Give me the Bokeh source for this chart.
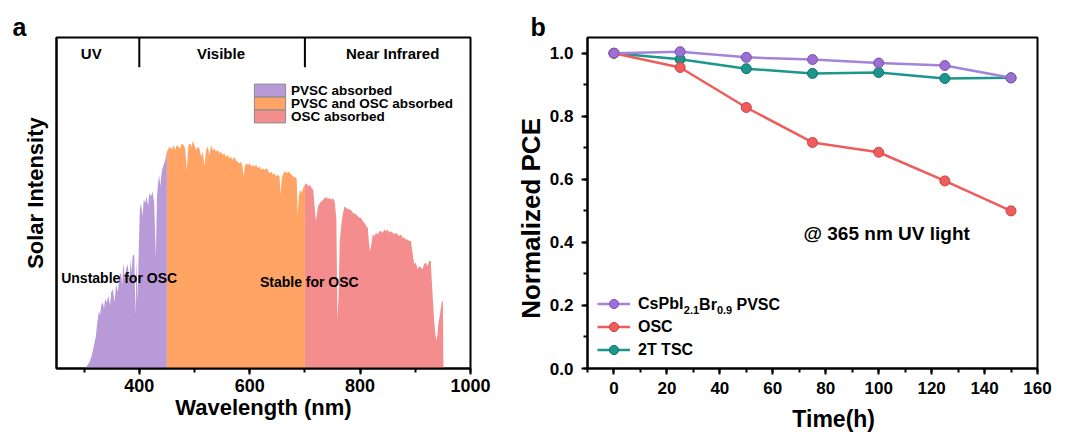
import numpy as np
from bokeh.plotting import figure
from bokeh.models import (Range1d, FixedTicker, SingleIntervalTicker, Legend, LegendItem,
                          Label, PrintfTickFormatter)
from bokeh.layouts import row
from bokeh.core.properties import value
from bokeh.embed import file_html
from bokeh.resources import INLINE
import math

FONT = "Liberation Sans"

# ---------------- data: panel a (solar spectrum, normalised to axis height) -------------
wavelength = [300, 303, 306, 310, 314, 318, 321, 324, 327, 329, 331, 334, 336, 338, 341, 344,
              347, 349, 352, 355, 358, 361, 364, 367, 369, 371, 374, 376, 379, 382, 384, 386,
              388, 391, 393, 395, 397, 399, 401, 403, 406, 408, 411, 413, 416, 418, 421, 424,
              427, 430, 432, 434, 436, 438, 441, 444, 447, 450, 453, 456, 459, 462, 465, 468,
              471, 474, 477, 480, 483, 486, 489, 492, 495, 497, 500, 503, 506, 509, 512, 515,
              518, 521, 524, 527, 530, 533, 536, 539, 542, 545, 548, 551, 554, 557, 560, 563,
              566, 569, 572, 575, 578, 581, 584, 587, 589, 591, 594, 597, 600, 603, 606, 609,
              612, 615, 618, 621, 624, 627, 630, 633, 636, 639, 642, 645, 648, 651, 654, 656,
              658, 661, 664, 667, 670, 673, 676, 679, 682, 685, 687, 689, 691, 694, 697, 700,
              703, 706, 709, 712, 715, 717, 720, 722, 724, 727, 730, 733, 736, 739, 742, 745,
              748, 751, 754, 757, 759, 761, 763, 766, 769, 772, 775, 778, 781, 784, 787, 790,
              793, 796, 799, 802, 805, 808, 811, 814, 816, 818, 820, 823, 826, 829, 832, 835,
              838, 841, 844, 847, 850, 853, 856, 859, 862, 865, 868, 871, 874, 877, 880, 883,
              886, 889, 892, 895, 898, 901, 904, 907, 910, 913, 916, 919, 922, 925, 928, 930,
              932, 934, 936, 938, 940, 942, 944, 946, 948, 950, 951]
intensity = [0.0, 0.0, 0.01, 0.02, 0.04, 0.07, 0.095, 0.14, 0.175, 0.16, 0.19, 0.2, 0.18, 0.21, 0.2, 0.22,
             0.19, 0.23, 0.24, 0.2, 0.255, 0.23, 0.28, 0.29, 0.25, 0.32, 0.27, 0.3, 0.315, 0.26, 0.33, 0.29,
             0.34, 0.345, 0.16, 0.33, 0.2, 0.36, 0.48, 0.5, 0.46, 0.51, 0.5, 0.52, 0.49, 0.53, 0.52, 0.535,
             0.5, 0.335, 0.52, 0.56, 0.585, 0.55, 0.6, 0.615, 0.63, 0.655, 0.665, 0.67, 0.66, 0.675, 0.66, 0.675,
             0.67, 0.665, 0.68, 0.675, 0.665, 0.6, 0.675, 0.68, 0.67, 0.688, 0.675, 0.66, 0.67, 0.665, 0.64, 0.655,
             0.61, 0.66, 0.67, 0.645, 0.675, 0.66, 0.665, 0.655, 0.66, 0.65, 0.655, 0.645, 0.65, 0.64, 0.645, 0.635,
             0.64, 0.63, 0.64, 0.63, 0.625, 0.62, 0.625, 0.61, 0.58, 0.61, 0.62, 0.615, 0.62, 0.61, 0.615, 0.61,
             0.615, 0.605, 0.61, 0.6, 0.605, 0.6, 0.605, 0.6, 0.59, 0.595, 0.585, 0.59, 0.58, 0.585, 0.58, 0.525,
             0.575, 0.59, 0.595, 0.59, 0.595, 0.59, 0.585, 0.58, 0.578, 0.575, 0.465, 0.52, 0.54, 0.53, 0.545, 0.555,
             0.56, 0.55, 0.555, 0.545, 0.54, 0.5, 0.445, 0.47, 0.49, 0.5, 0.505, 0.51, 0.515, 0.518, 0.512, 0.515,
             0.51, 0.514, 0.505, 0.45, 0.145, 0.22, 0.38, 0.435, 0.47, 0.49, 0.485, 0.482, 0.48, 0.478, 0.47, 0.468,
             0.465, 0.46, 0.455, 0.455, 0.445, 0.44, 0.43, 0.425, 0.38, 0.355, 0.37, 0.405, 0.4, 0.41, 0.405, 0.415,
             0.415, 0.41, 0.42, 0.415, 0.42, 0.41, 0.415, 0.41, 0.405, 0.41, 0.405, 0.4, 0.405, 0.395, 0.395, 0.39,
             0.39, 0.385, 0.385, 0.35, 0.315, 0.32, 0.3, 0.31, 0.305, 0.3, 0.315, 0.32, 0.31, 0.325, 0.325, 0.26,
             0.205, 0.15, 0.11, 0.085, 0.1, 0.14, 0.155, 0.18, 0.2, 0.205, 0.0]
pvsc_edge = 450
osc_edge = 700
band_edges = [400, 700]
band_names = ["UV", "Visible", "Near Infrared"]
band_label_x = [313, 548, 859]
legend_a_labels = ["PVSC absorbed", "PVSC and OSC absorbed", "OSC absorbed"]
fill_colors = ["#B89AD9", "#FFA465", "#F48D8D"]

# ---------------- data: panel b (normalised PCE) ----------------
time_h = [0, 25, 50, 75, 100, 125, 150]
pce_pvsc = [1.000, 1.005, 0.987, 0.980, 0.969, 0.961, 0.922]
pce_osc = [1.000, 0.955, 0.828, 0.717, 0.686, 0.595, 0.500]
pce_tsc = [1.000, 0.981, 0.951, 0.936, 0.939, 0.920, 0.922]


def style_axis(ax, label_size):
    ax.axis_line_color = "black"
    ax.axis_line_width = 2
    ax.major_tick_line_color = "black"
    ax.major_tick_line_width = 2
    ax.minor_tick_line_color = "black"
    ax.minor_tick_line_width = 2
    ax.major_tick_in = 0
    ax.minor_tick_in = 0
    ax.major_tick_out = 6
    ax.minor_tick_out = 4
    ax.major_label_text_font = FONT
    ax.major_label_text_font_style = "bold"
    ax.major_label_text_font_size = label_size
    ax.major_label_text_color = "black"
    ax.axis_label_text_font = FONT
    ax.axis_label_text_font_style = "bold"
    ax.axis_label_text_color = "black"


def style_title(p, text, offset):
    p.title.text = text
    p.title.align = "left"
    p.title.offset = offset
    p.title.standoff = -7
    p.title.text_font = FONT
    p.title.text_font_style = "bold"
    p.title.text_font_size = "25px"
    p.title.text_color = "black"


def side_label(text, size, **kw):
    return Label(text=text, text_font=FONT, text_font_style="bold", text_font_size=size,
                 text_color="black", **kw)


# ======================= panel a =======================
pa = figure(width=513, height=432, x_range=Range1d(250, 1000), y_range=Range1d(0, 1),
            output_backend="svg", toolbar_location=None,
            min_border_left=56, min_border_right=43, min_border_top=35, min_border_bottom=64)
pa.xgrid.visible = False
pa.ygrid.visible = False
pa.outline_line_color = "black"
pa.outline_line_width = 2
pa.outline_line_alpha = 1
style_title(pa, "a", -44)

wl = np.array(wavelength, dtype=float)
iv = np.array(intensity, dtype=float)
masks = [wl <= pvsc_edge, (wl >= pvsc_edge) & (wl <= osc_edge), wl >= osc_edge]
areas = []
for m, c in zip(masks, fill_colors):
    areas.append(pa.varea(x=wl[m], y1=np.zeros(m.sum()), y2=iv[m], fill_color=c, fill_alpha=1))

# outline-only proxy (no visible data) so the legend swatches get a grey border
swatch_border = pa.patch(x=[np.nan], y=[np.nan], fill_alpha=0, line_color="#8a8a8a", line_width=1)

pa.segment(x0=band_edges, y0=[1.0] * len(band_edges), x1=band_edges, y1=[0.91] * len(band_edges),
           line_color="black", line_width=2)
pa.text(x=band_label_x, y=[0.951] * 3, text=band_names, text_font=value(FONT),
        text_font_style="bold", text_font_size="15px", text_align="center",
        text_baseline="middle", text_color="black")

pa.add_layout(side_label("Unstable for OSC", "14px", x=258.5, y=0.274, text_baseline="middle"))
pa.add_layout(side_label("Stable for OSC", "14px", x=618.5, y=0.262, text_baseline="middle"))

# one single-row legend per item so rows can sit 13 px apart
for i, (lab, r) in enumerate(zip(legend_a_labels, areas)):
    leg = Legend(items=[LegendItem(label=lab, renderers=[r, swatch_border])],
                 location=(194, 270 - 13 * i), glyph_width=39, glyph_height=16,
                 label_height=16, spacing=0, padding=0, margin=0, label_standoff=2,
                 border_line_color=None, background_fill_alpha=0,
                 label_text_font=FONT, label_text_font_style="bold",
                 label_text_font_size="13.5px", label_text_color="black")
    pa.add_layout(leg)

pa.xaxis.ticker = SingleIntervalTicker(interval=200, num_minor_ticks=2)
pa.yaxis.ticker = FixedTicker(ticks=[], minor_ticks=[])
style_axis(pa.xaxis[0], "18px")
style_axis(pa.yaxis[0], "18px")
pa.xaxis.axis_label = "Wavelength (nm)"
pa.xaxis.axis_label_text_font_size = "22px"
pa.xaxis.major_label_standoff = 4
pa.xaxis.axis_label_standoff = 0
pa.yaxis.major_tick_out = 0
pa.yaxis.minor_tick_out = 0
pa.yaxis.major_label_standoff = 0
# y title in the left side panel (x in screen px, y in data units)
pa.add_layout(side_label("Solar Intensity", "22px", x=4, y=0.53, x_units="screen",
                         angle=math.pi / 2, text_align="center",
                         text_baseline="alphabetic"), "left")

# ======================= panel b =======================
pb = figure(width=578, height=432, x_range=Range1d(-10, 160), y_range=Range1d(0, 1.05),
            output_backend="svg", toolbar_location=None,
            min_border_left=74, min_border_right=54, min_border_top=37, min_border_bottom=60)
pb.xgrid.visible = False
pb.ygrid.visible = False
pb.outline_line_color = "black"
pb.outline_line_width = 2
pb.outline_line_alpha = 1
style_title(pb, "b", -57)

series = [
    ("2T TSC", pce_tsc, "#1D968C", "#1D968C", "#137068"),
    ("OSC", pce_osc, "#EE5C5C", "#EE5C5C", "#C84444"),
    ("CsPbI", pce_pvsc, "#A483DB", "#9C6FD3", "#7C52B4"),
]
rend = {}
for name, ys, lc, fc, oc in series:
    l = pb.line(time_h, ys, line_color=lc, line_width=2.5)
    s = pb.scatter(time_h, ys, size=10, fill_color=fc, line_color=oc, line_width=1)
    rend[name] = (l, s)

items_b = [LegendItem(label=n, renderers=list(rend[n])) for n in ("CsPbI", "OSC", "2T TSC")]
leg_b = Legend(items=items_b, location=(10, 7), glyph_width=33, glyph_height=23,
               label_height=23, spacing=0, padding=0, margin=0, label_standoff=8,
               border_line_color=None, background_fill_alpha=0,
               label_text_font=FONT, label_text_font_style="bold",
               label_text_font_size="16px", label_text_color="black")
pb.add_layout(leg_b)

# pixel -> data helpers for panel b legend subscripts (frame 450 x 335 px)
bx_per_px = 170 / 450.0
by_per_px = 1.05 / 335.0
legend_text_x0 = 10 + 33 + 8          # px from frame left
row1_y = 7 + 3 * 23 - 11.5            # px from frame bottom
sub_parts = [("2.1", "11px", 45.3, -5), ("Br", "16px", 60.6, 0), ("0.9", "11px", 78.4, -5),
             ("PVSC", "16px", 98.0, 0)]
for txt, fs, dx, dy in sub_parts:
    pb.add_layout(side_label(txt, fs, x=-10 + (legend_text_x0 + dx) * bx_per_px,
                             y=(row1_y + dy) * by_per_px, text_baseline="middle"))

pb.add_layout(side_label("@ 365 nm UV light", "19px", x=71.6, y=0.429, text_baseline="middle"))

pb.xaxis.ticker = SingleIntervalTicker(interval=20, num_minor_ticks=2)
pb.yaxis.ticker = SingleIntervalTicker(interval=0.2, num_minor_ticks=2)
pb.yaxis.formatter = PrintfTickFormatter(format="%.1f")
style_axis(pb.xaxis[0], "17px")
style_axis(pb.yaxis[0], "17px")
pb.xaxis.major_label_standoff = 7
pb.yaxis.major_label_standoff = 8

# axis titles in the side panels (not clipped, take no room)
pb.add_layout(side_label("Time(h)", "23px", x=83, y=17, y_units="screen", text_align="center",
                         text_baseline="top"), "below")
pb.add_layout(side_label("Normalized PCE", "26px", x=14, y=0.476, x_units="screen",
                         angle=math.pi / 2, text_align="center",
                         text_baseline="alphabetic"), "left")

layout = row(pa, pb)
open("out.html", "w").write(file_html(layout, INLINE))
